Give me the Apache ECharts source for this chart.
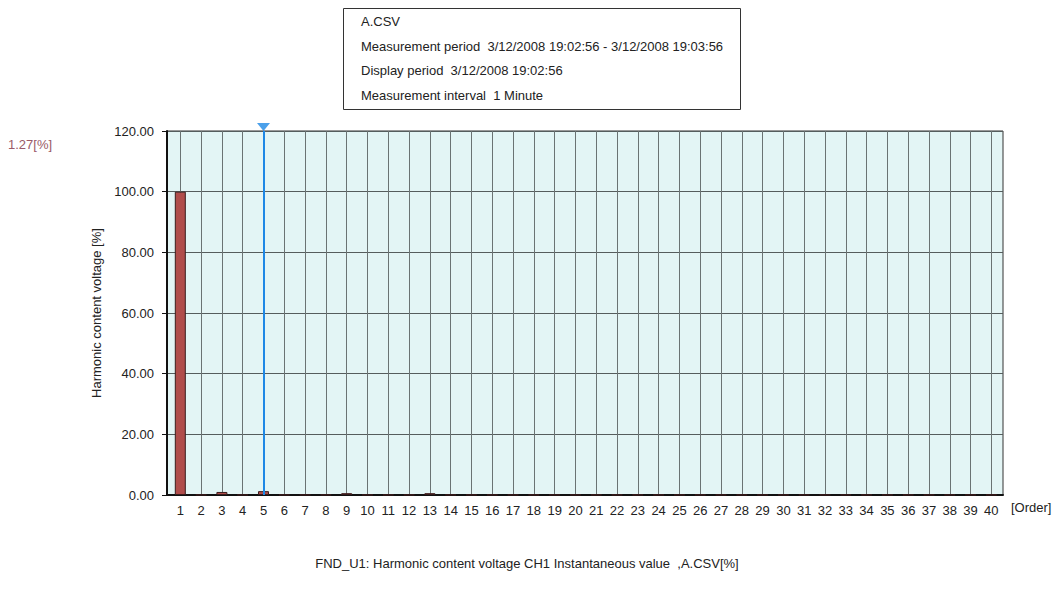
<!DOCTYPE html>
<html>
<head>
<meta charset="utf-8">
<script src="https://cdn.jsdelivr.net/npm/echarts@6/dist/echarts.min.js"></script>
<style>
html,body{margin:0;padding:0;background:#fff;}
#chart{width:1054px;height:591px;}
</style>
</head>
<body>
<div id="chart"></div>
<script>
// ---- data ----
const orders = [1,2,3,4,5,6,7,8,9,10,11,12,13,14,15,16,17,18,19,20,21,22,23,24,25,26,27,28,29,30,31,32,33,34,35,36,37,38,39,40];
const harmonicValues = [100,0.1,1.0,0.1,1.27,0.1,0.1,0.1,0.6,0.1,0.1,0.1,0.6,0.1,0.1,0.1,0.1,0.1,0.1,0.1,0.1,0.1,0.1,0.1,0.1,0.1,0.1,0.1,0.1,0.1,0.1,0.1,0.1,0.1,0.1,0.1,0.1,0.1,0.1,0.1];
const yTicks = [0,20,40,60,80,100,120];
const cursorOrder = 5;
const cursorValue = 1.27;
const infoLines = [
  'A.CSV',
  'Measurement period  3/12/2008 19:02:56 - 3/12/2008 19:03:56',
  'Display period  3/12/2008 19:02:56',
  'Measurement interval  1 Minute'
];
const yAxisTitle = 'Harmonic content voltage [%]';
const xAxisUnit = '[Order]';
const bottomTitle = 'FND_U1: Harmonic content voltage CH1 Instantaneous value  ,A.CSV[%]';

const FONT = "'Liberation Sans Narrow','Liberation Sans',Arial,sans-serif";

const chart = echarts.init(document.getElementById('chart'), null, {renderer:'svg'});
const barData = orders.map((o,i)=>[o, harmonicValues[i]]);

const option = {
  animation:false,
  backgroundColor:'#ffffff',
  textStyle:{fontFamily:FONT},
  grid:{left:167, right:51, top:131, bottom:96, show:true, backgroundColor:'#e3f5f5', borderColor:'#333', borderWidth:1},
  xAxis:{
    type:'value', min:0.36, max:40.56,
    axisLine:{show:true, onZero:false, lineStyle:{color:'#111', width:2}},
    axisTick:{show:false, customValues:orders},
    axisLabel:{customValues:orders, color:'#222', fontSize:13, fontFamily:FONT, margin:9, formatter:v=>String(v)},
    splitLine:{show:true, lineStyle:{color:'#6a7373', width:1}}
  },
  yAxis:{
    type:'value', min:yTicks[0], max:yTicks[yTicks.length-1], interval:20,
    name:yAxisTitle, nameLocation:'middle', nameGap:44, nameRotate:90,
    nameTextStyle:{color:'#222', fontSize:13, fontFamily:"'Liberation Sans',Arial,sans-serif"},
    axisLine:{show:true, lineStyle:{color:'#111', width:2}},
    axisTick:{show:true, length:5, lineStyle:{color:'#111'}},
    axisLabel:{color:'#222', fontSize:13, fontFamily:FONT, margin:13, formatter:v=>v.toFixed(2)},
    splitLine:{show:true, lineStyle:{color:'#555d5d', width:1}}
  },
  series:[
    {
      type:'bar', data:barData, barWidth:11,
      itemStyle:{color:'#b04d4b', borderColor:'#3a1c1c', borderWidth:1},
      markLine:{
        silent:true, symbol:['none','none'],
        lineStyle:{color:'#1e88e5', width:2, type:'solid'},
        label:{show:false},
        data:[[{coord:[cursorOrder,0]},{coord:[cursorOrder,120]}]]
      }
    },
    {
      type:'scatter', data:[[cursorOrder,120]], symbol:'triangle', symbolRotate:180,
      symbolSize:[13,8], symbolOffset:[0,-4], itemStyle:{color:'#1e88e5'}, silent:true, z:5
    }
  ],
  graphic:[
    {type:'rect', shape:{x:343.5, y:8.5, width:397, height:101}, style:{fill:'#fff', stroke:'#333', lineWidth:1}},
    ...infoLines.map((t,i)=>({type:'text', x:361, y:15+i*24.5, style:{text:t, fill:'#222', font:'13px '+FONT}})),
    {type:'text', x:8, y:138, style:{text:cursorValue.toFixed(2)+'[%]', fill:'#9a5a68', font:'13px '+FONT}},
    {type:'text', x:1011, y:501, style:{text:xAxisUnit, fill:'#222', font:'13px '+FONT}},
    {type:'text', x:527, y:557, style:{text:bottomTitle, fill:'#222', font:'13px '+FONT, textAlign:'center'}}
  ]
};
chart.setOption(option);
</script>
</body>
</html>
